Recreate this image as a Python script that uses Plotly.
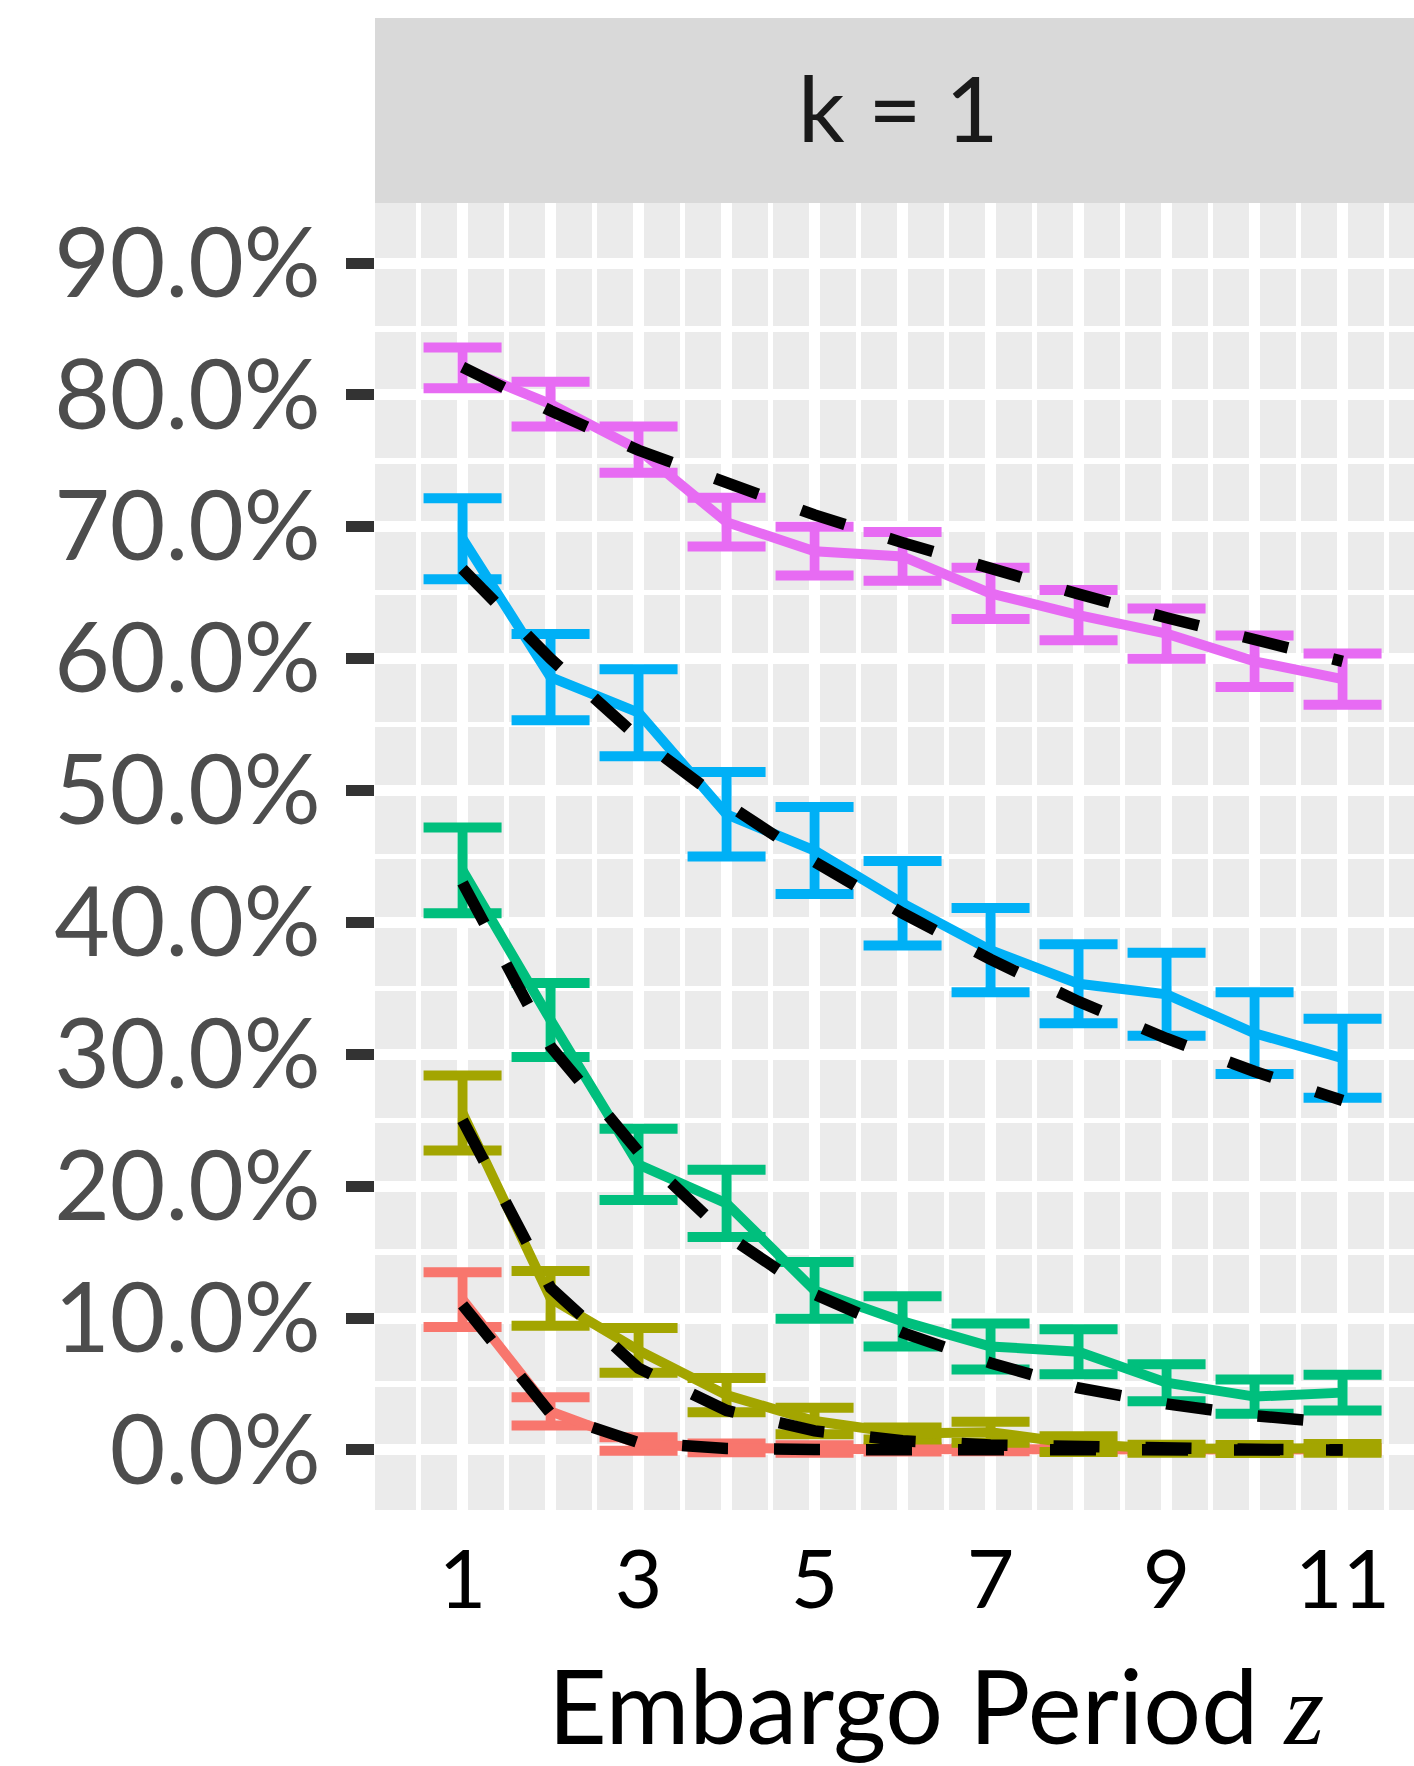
import plotly.graph_objects as go

# ---------------- data (percent) ----------------
z = [1, 2, 3, 4, 5, 6, 7, 8, 9, 10, 11]
x_tick_vals = [1, 2, 3, 4, 5, 6, 7, 8, 9, 10, 11]
x_tick_text = ["1", "", "3", "", "5", "", "7", "", "9", "", "11"]
y_tick_vals = [0, 10, 20, 30, 40, 50, 60, 70, 80, 90]
y_tick_text = ["0.0%", "10.0%", "20.0%", "30.0%", "40.0%", "50.0%", "60.0%", "70.0%", "80.0%", "90.0%"]
facet_label = "k = 1"
x_title = "Embargo Period"

colors = ["#F8766D", "#A3A500", "#00BF7D", "#00B0F6", "#E76BF3"]

red_mean = [11.4, 2.93, 0.46, 0.16, 0.08, 0.04, 0.03, 0.02, 0.02, 0.03, 0.05]
red_err = [2.08, 1.07, 0.51, 0.33, 0.28, 0.15, 0.12, 0.10, 0.10, 0.10, 0.10]
red_fit = [11.0, 2.78, 0.56, 0.12, 0.03, 0.01, 0.0, 0.0, 0.0, 0.0, 0.0]

olive_mean = [25.55, 11.5, 7.55, 4.16, 2.2, 1.25, 1.35, 0.45, 0.1, 0.08, 0.13]
olive_err = [2.85, 2.08, 1.7, 1.3, 1.0, 0.45, 0.8, 0.6, 0.3, 0.3, 0.33]
olive_fit = [25.0, 12.3, 6.2, 3.0, 1.45, 0.7, 0.38, 0.22, 0.1, 0.05, 0.02]

green_mean = [43.95, 32.6, 21.65, 18.7, 12.1, 9.75, 7.85, 7.45, 5.1, 4.05, 4.35]
green_err = [3.25, 2.8, 2.7, 2.55, 2.15, 1.9, 1.75, 1.7, 1.4, 1.3, 1.35]
green_fit = [43.0, 30.6, 22.6, 16.3, 11.8, 8.9, 6.6, 4.7, 3.5, 2.6, 2.0]

blue_mean = [69.1, 58.6, 55.9, 48.2, 45.45, 41.45, 37.9, 35.35, 34.55, 31.6, 29.7]
blue_err = [3.07, 3.27, 3.3, 3.2, 3.3, 3.2, 3.2, 3.0, 3.15, 3.1, 3.0]
blue_fit = [66.8, 60.0, 54.0, 49.0, 44.6, 40.7, 37.2, 34.0, 31.2, 28.7, 26.5]

pink_mean = [82.05, 79.3, 75.85, 70.35, 68.15, 67.75, 64.95, 63.3, 61.9, 59.8, 58.45]
pink_err = [1.55, 1.7, 1.75, 1.85, 1.85, 1.85, 1.95, 1.9, 1.9, 1.95, 1.95]
pink_fit = [82.1, 78.8, 75.8, 73.3, 70.9, 68.8, 66.8, 64.9, 63.1, 61.4, 59.8]

means = [red_mean, olive_mean, green_mean, blue_mean, pink_mean]
errs = [red_err, olive_err, green_err, blue_err, pink_err]
fits = [red_fit, olive_fit, green_fit, blue_fit, pink_fit]

# ---------------- figure ----------------
W, H = 1414, 1766
L, R, T, B = 375, 0, 203, 256
FONT = "Lato"

fig = go.Figure()

for m, e, c in zip(means, errs, colors):
    fig.add_trace(go.Scatter(
        x=z, y=m, mode="lines",
        line=dict(color=c, width=10),
        error_y=dict(type="data", array=e, visible=True, color=c,
                     thickness=10, width=39),
        showlegend=False, hoverinfo="skip",
    ))

for f in fits:
    fig.add_trace(go.Scatter(
        x=z, y=f, mode="lines",
        line=dict(color="black", width=11.5, dash="46px,46px"),
        showlegend=False, hoverinfo="skip",
    ))

plot_h = H - T - B
strip_top = 18

fig.update_layout(
    width=W, height=H,
    margin=dict(l=L, r=R, t=T, b=B, pad=0),
    paper_bgcolor="white",
    plot_bgcolor="#EBEBEB",
    font=dict(family=FONT),
    xaxis=dict(
        range=[0.005, 0.005 + (W - L - R) / 88.0],
        tickmode="array", tickvals=x_tick_vals, ticktext=x_tick_text,
        ticks="", showline=False, zeroline=False,
        showgrid=True, gridcolor="white", gridwidth=11,
        tickfont=dict(family=FONT, size=82, color="black"),
        ticklabelstandoff=15,
        minor=dict(tickmode="array",
                   tickvals=[0.5, 1.5, 2.5, 3.5, 4.5, 5.5, 6.5, 7.5, 8.5, 9.5, 10.5, 11.5],
                   showgrid=True, gridcolor="white", gridwidth=5.5, ticks=""),
    ),
    yaxis=dict(
        range=[-4.55, 94.55],
        tickmode="array", tickvals=y_tick_vals, ticktext=y_tick_text,
        ticks="outside", ticklen=28, tickwidth=11, tickcolor="#333333",
        showline=False, zeroline=False,
        showgrid=True, gridcolor="white", gridwidth=11,
        tickfont=dict(family=FONT, size=96, color="#4D4D4D"),
        ticklabelstandoff=6,
        minor=dict(tickmode="array",
                   tickvals=[5, 15, 25, 35, 45, 55, 65, 75, 85],
                   showgrid=True, gridcolor="white", gridwidth=5.5, ticks=""),
    ),
    shapes=[dict(
        type="rect", xref="paper", yref="paper",
        x0=0, x1=1, y0=1, y1=1 + (T - strip_top) / plot_h,
        fillcolor="#D9D9D9", line=dict(width=0), layer="below",
    )],
    annotations=[
        dict(text=facet_label, xref="paper", yref="paper",
             x=(898 - L) / (W - L - R), y=1 + (T - 107) / plot_h,
             xanchor="center", yanchor="middle", showarrow=False,
             font=dict(family=FONT, size=92, color="#1A1A1A")),
        dict(text=x_title + " <span style=\"font-family:'Liberation Serif'\"><i>z</i></span>",
             xref="paper", yref="paper",
             x=(936 - L) / (W - L - R), y=-(1704 - (H - B)) / plot_h,
             xanchor="center", yanchor="middle", showarrow=False,
             font=dict(family=FONT, size=102, color="black")),
    ],
)

fig.write_html("out.html",
               config={"displayModeBar": False, "staticPlot": True},
               post_script="document.body.style.margin='0px';document.body.style.overflow='hidden';")
